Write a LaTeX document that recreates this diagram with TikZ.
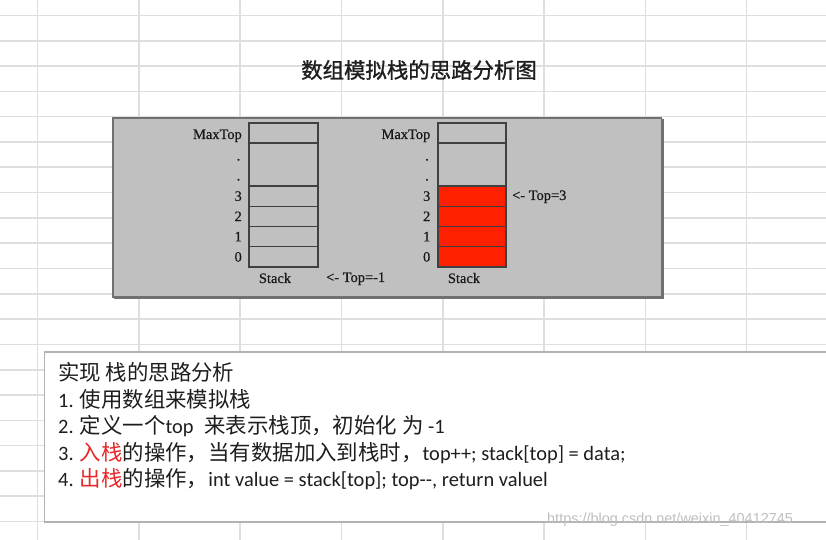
\documentclass[tikz,border=0pt]{standalone}
\usepackage{fontspec}
\setmainfont{Liberation Serif}[FakeBold=0.6]
\newfontfamily\cjk{Noto Sans CJK SC}
\newfontfamily\cjkhead{Noto Sans CJK SC}[FakeBold=1.2]
\newfontfamily\calibri{Carlito}
\newfontfamily\wmfont{Liberation Sans}
\definecolor{gridgray}{RGB}{222,222,222}
\definecolor{panelgray}{RGB}{192,192,192}
\definecolor{paneledge}{RGB}{112,112,112}
\definecolor{cellline}{RGB}{64,64,64}
\definecolor{fullred}{RGB}{255,32,0}
\definecolor{notered}{RGB}{232,40,40}
\definecolor{inkgray}{RGB}{30,30,30}
\newcommand{\zh}[1]{{\cjk\fontsize{21.5}{26}\selectfont #1}}

\begin{document}
\begin{tikzpicture}[x=1bp, y=-1bp,
	gridline/.style={draw=gridgray, line width=1.6bp},
	panel/.style={fill=panelgray, draw=paneledge, line width=1.8bp},
	notebox/.style={fill=white, draw=black!30, line width=1.1bp},
	cell/.style={shape=rectangle, draw=cellline, line width=1.2bp, inner sep=0pt, outer sep=0pt},
	lbl/.style={inner sep=0pt, font=\fontsize{14.5}{16}\selectfont, text=black!90},
	title/.style={inner sep=0pt, font=\cjkhead\fontsize{21.5}{26}\selectfont, text=inkgray},
	noteline/.style={inner sep=0pt, anchor=base west, font=\calibri\fontsize{20.5}{25}\selectfont, text=inkgray},
	wmark/.style={inner sep=0pt, anchor=west, font=\wmfont\fontsize{14.5}{16}\selectfont, text=black!25}]
	\useasboundingbox (0,0) rectangle (826,540);

	\foreach \k in {0,...,20}
		\draw[gridline] (0, 15.5+25.3*\k) -- (826, 15.5+25.3*\k);
	\foreach \k in {0,...,7}
		\draw[gridline] (37.5+101.3*\k, 0) -- (37.5+101.3*\k, 540);

	\node[title] (title) at (419, 70) {数组模拟栈的思路分析图};

	\draw[panel] (113, 118) rectangle (661.5, 297);
	\draw[paneledge, line width=1.2bp] (663, 119) -- (663, 298) -- (114, 298);

	\node[cell, minimum width=69bp, minimum height=20bp] (s1top) at (283.5, 133) {};
	\node[cell, minimum width=69bp, minimum height=43bp] (s1dots) at (283.5, 164.5) {};
	\foreach \i in {0,...,3}
		\node[cell, minimum width=69bp, minimum height=20.25bp] (s1c\i) at (283.5, 256.875-20.25*\i) {};

	\node[cell, minimum width=68bp, minimum height=20bp] (s2top) at (472, 133) {};
	\node[cell, minimum width=68bp, minimum height=43bp] (s2dots) at (472, 164.5) {};
	\foreach \i in {0,...,3}
		\node[cell, fill=fullred, minimum width=68bp, minimum height=20.25bp] (s2c\i) at (472, 256.875-20.25*\i) {};

	\node[lbl, anchor=base east] (s1max) at (242, 139) {MaxTop};
	\node[lbl, anchor=base east] (s1d1) at (240.5, 160.5) {.};
	\node[lbl, anchor=base east] (s1d2) at (240.5, 180.5) {.};
	\foreach \i in {0,...,3}
		\node[lbl, anchor=base east] (s1n\i) at (242, 261.6-20.25*\i) {\i};
	\node[lbl, anchor=base] (s1name) at (275, 283) {Stack};
	\node[lbl, anchor=base west] (s1ptr) at (326, 282) {<- Top=-1};

	\node[lbl, anchor=base east] (s2max) at (430.5, 139) {MaxTop};
	\node[lbl, anchor=base east] (s2d1) at (429, 160.5) {.};
	\node[lbl, anchor=base east] (s2d2) at (429, 180.5) {.};
	\foreach \i in {0,...,3}
		\node[lbl, anchor=base east] (s2n\i) at (430.5, 261.6-20.25*\i) {\i};
	\node[lbl, anchor=base] (s2name) at (464, 283) {Stack};
	\node[lbl, anchor=base west] (s2ptr) at (512, 200) {<- Top=3};

	\draw[notebox] (44.5, 352) rectangle (840, 522);

	\node[noteline] (ln1) at (58, 380) {\zh{实现 栈的思路分析}};
	\node[noteline] (ln2) at (58, 407) {1. \zh{使用数组来模拟栈}};
	\node[noteline] (ln3) at (58, 433) {2. \zh{定义一个}top\hspace{0.3em} \zh{来表示栈顶，初始化 为} -1};
	\node[noteline] (ln4) at (58, 460) {3. \textcolor{notered}{\zh{入栈}}\zh{的操作，当有数据加入到栈时，}top++; stack[top] = data;};
	\node[noteline] (ln5) at (58, 486) {4. \textcolor{notered}{\zh{出栈}}\zh{的操作，}int value = stack[top]; top-\kern0pt-, return valuel};

	\node[wmark] (wm) at (547, 520) {https://blog.csdn.net/weixin\_40412745};
\end{tikzpicture}
\end{document}
